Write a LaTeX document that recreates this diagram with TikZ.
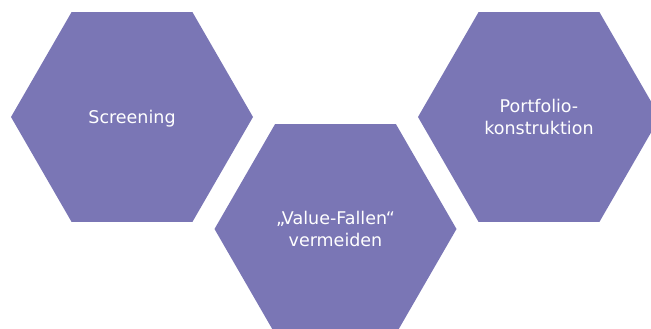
\documentclass[tikz,border=0pt]{standalone}
\usepackage{fontspec}
\newfontfamily\hexfont{DejaVu Sans}
\usetikzlibrary{shapes.geometric}
\definecolor{hexviolet}{RGB}{122,118,181}

\begin{document}
\begin{tikzpicture}[x = 1pt, y = -1pt,
	hexa/.style = {regular polygon, regular polygon sides = 6, minimum size = 242pt,
		inner sep = 0pt, outer sep = 0pt, fill = hexviolet, text = white, align = center,
		font = \hexfont\fontsize{17.5}{22.5}\selectfont}]
	\useasboundingbox (0,0) rectangle (651,329);
	\clip (0,0) rectangle (651,329);

	\node[hexa, text depth = 0pt] (screening) at (132,117) {Screening};
	\node[hexa] (fallen) at (335.5,229) {„Value-Fallen“\\vermeiden};
	\node[hexa] (portfolio) at (539,117) {Portfolio-\\konstruktion};
\end{tikzpicture}
\end{document}
